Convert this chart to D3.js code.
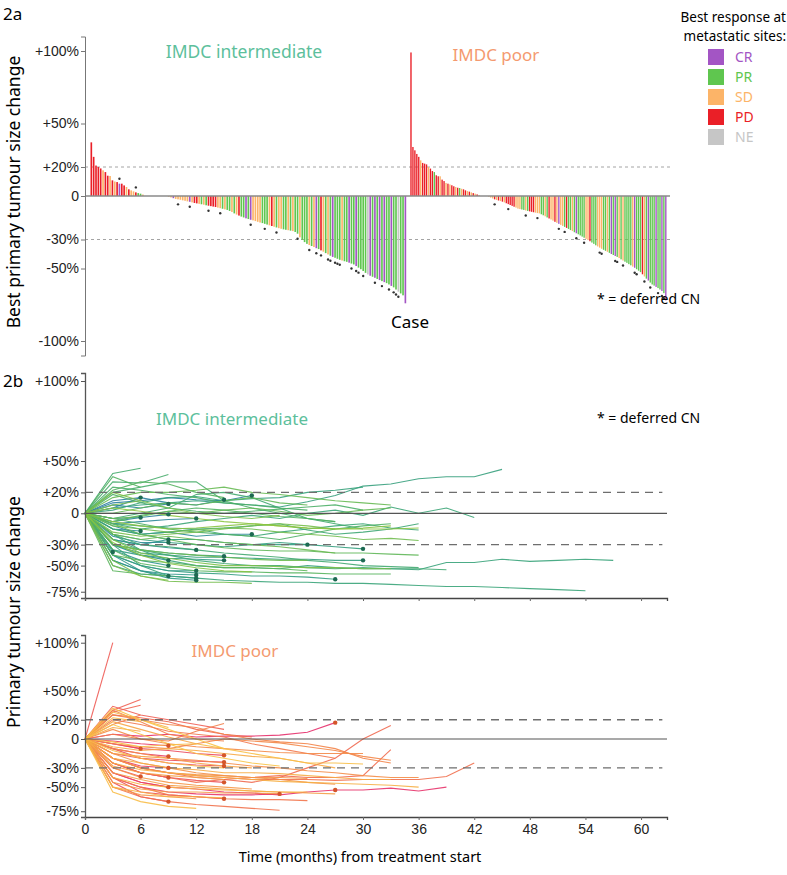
<!DOCTYPE html>
<html>
<head>
<meta charset="utf-8">
<script src="https://cdn.jsdelivr.net/npm/d3@7"></script>
<style>
  body { margin: 0; background: #fff; }
  svg text { font-family: "Noto Sans", "Open Sans", sans-serif; }
  .tick text { font-family: "Liberation Sans", Arial, sans-serif; font-size: 14px; fill: #222; }
</style>
</head>
<body>
<svg id="fig" width="787" height="875"></svg>
<script>
// ---------- data : 2a waterfall (best change in %, ordered as in the figure) ----------
const intWf = [37, 27, 21, 20, 19, 17.7, 16.5, 14, 13.8, 10.8, 10, 9.6, 8.5, 8.5, 7.3, 6.2, 4.6, 3.9, 3.2, 2.5, 2, 1.6, 1,
  0, 0, 0, 0, 0, 0, 0, 0, 0, 0,
  -0.5, -1, -1.5, -2, -2.3, -2.6, -3, -3.3, -3.7, -4, -4.4, -4.8, -5.1, -5.4, -5.7, -6, -6.4, -6.7, -7, -7.3,
  -7.6, -8, -8.4, -8.8, -9.2, -9.6, -10.3, -11, -12, -12.8, -13.5, -14.2, -14.8, -15.4, -15.9, -16.4, -16.8, -17.3,
  -17.8, -18.3, -18.7, -19.2, -19.7, -20.2, -20.7, -21.2, -21.7, -22.2, -22.6, -23, -23.3, -23.6, -23.9, -24.2,
  -24.8, -26, -28.5, -30.2, -31.8, -33, -33.8, -34.5, -35.2, -36, -36.6, -37.5, -38.4, -39.4, -40.3, -41.2, -42,
  -42.6, -43.3, -44, -44.5, -45, -45.4, -46, -46.6, -47.2, -48.3, -49.4, -50.5, -51.7, -53, -54.1, -55, -55.7,
  -56.4, -57.2, -58, -58.7, -59.4, -60.1, -61, -62, -63, -64.5, -66, -67.2, -68.5, -74];
const intResp = ("DDDDDSDDSDSDCDDSDSSDPPS" + "SSSSSSSSSS" +
  "SSCSSSSSSC" + "SDDSPSPDDD" + "DSSPSPPSPS" + "DPPCPCSSSS" + "PPPSDSPSSP" +
  "PSPSPPSPPP" + "SPSCPDSPSP" + "CPPPSPPCPP" + "CPPPPNCPCP" + "CPCPPCPPNP" + "PC").split("");
const intDeferred = [12, 19, 37, 42, 50, 55, 68, 74, 79, 88, 93, 96, 98, 101, 102, 104, 105, 106, 111, 113,
  114, 116, 121, 124, 127, 129, 130, 131];

const poorWf = [99, 33.8, 31.5, 29, 27, 24.6, 22.8, 22.3, 21.8, 20, 18.9, 17.2, 16.5, 14.3, 13.6, 13.6, 11.3, 10.3,
  9, 8.5, 8, 7.4, 6.7, 6.2, 5.7, 5.5, 5, 4.6, 3.9, 3.4, 3, 2.5, 2, 1.6, 1.1, 0.7,
  0, 0, 0, 0,
  -0.5, -1.1, -1.7, -2.3, -2.7, -3.1, -3.5, -3.9, -4.4, -5, -5.6, -6.2, -6.8, -7.4, -8, -8.7, -9, -9.3, -9.6, -10,
  -10.3, -10.6, -10.9, -11.2, -11.5, -11.8, -12, -12.6, -13.3, -14, -14.8, -15.5, -16.2, -17, -17.8, -18.5, -19.2,
  -19.9, -20.6, -21.3, -22, -22.7, -23.5, -24.2, -25, -25.7, -26.4, -27.2, -28, -28.8, -29.6, -30.4, -31.2, -32.1,
  -33, -34, -34.8, -35.6, -36.4, -37.1, -37.8, -38.5, -39.2, -40, -40.7, -41.4, -42, -42.8, -43.7, -44.5, -45.3,
  -46.1, -47, -47.8, -48.7, -49.5, -50.5, -51.5, -52.5, -54, -55.5, -57, -58.3, -59.7, -61, -61.8, -62.7, -63.5,
  -64.5, -65.5, -67, -72];
const poorResp = ("DDDDDSDDDSDDPDDSDDSDSDDSDPSDDSDSDSDS" + "SSSS" +
  "SSSDSDSDSD" + "DDDDSSSPPS" + "PDDDSSSPPS" + "PDSSDSCSSP" + "DPPSPCPPPP" +
  "SSDPPPSSSP" + "PSPCPCPSPS" + "PPPPSCPPPD" + "SPCPPPCPPC" + "PC").split("");
const poorDeferred = [43, 50, 59, 65, 76, 79, 85, 89, 97, 98, 105, 106, 109, 115, 116, 120, 123, 127, 129, 130];

const respLabels = ["CR", "PR", "SD", "PD", "NE"];
const respKey = { C: "CR", P: "PR", S: "SD", D: "PD", N: "NE" };

// ---------- data : 2b trajectories (value every 3 months from start) ----------
const intTraj = [
  [0, 10, 12, 15, 13, 12, 17], [0, 12, 15, 10, 8, 13], [0, 5, 15], [0, 8, 5, 9], [0, -5, -4, -1],
  [0, -10, -8, -6, -5], [0, -15, -17], [0, -12, -20, -18, -22, -20, -20], [0, -8, -4], [0, -25, -30, -25],
  [0, -22, -28, -28], [0, -37], [0, -30, -40, -45], [0, -35, -45, -50], [0, -45, -55, -60],
  [0, -25, -30, -33, -35], [0, -40, -50, -55, -55], [0, -45, -55, -58, -59], [0, -50, -58, -60, -62],
  [0, -40, -55, -62, -64], [0, -30, -35, -38, -40, -41], [0, -35, -40, -43, -44, -45],
  [0, -15, -20, -25, -25, -28, -30, -30, -30], [0, -40, -50, -55, -57, -58, -60, -60, -61, -63],
  [0, -20, -25, -28, -30, -32, -30, -28, -30, -32, -34], [0, -30, -38, -40, -42, -42, -43, -44, -44, -45, -45],
  [0, 5, 8, 10, 12, 10, 8, 6, 11, 17, 26, 28, 33, 35, 35, 42],
  [0, 3, 10, 15, 16, 12, 14, 15, 20, 22, 25],
  [0, -20, -35, -45, -50, -52, -52, -53, -50, -52, -53, -53, -54, -47, -47, -44, -46, -45, -44, -45],
  [0, -30, -50, -60, -62, -64, -65, -66, -66, -67, -67, -68, -69, -70, -70, -71, -72, -73, -74],
  [0, -10, -15, -12, -8, -5, -2, -5, 0, 3, -2, 6, 0, 5, -4],
  [0, -15, -20, -18, -15, -20, -22, -18, -15, -12, -10, -14, -16],
  [0, -10, -12, -14, -15, -14, -12, -10, -16, -20, -18, -15, -10],
  [0, -25, -35, -40, -45, -48, -50, -50, -52, -53, -52, -53, -53, -54],
  [0, -20, -30, -32, -35, -38, -40, -42, -45, -47, -50, -51, -52],
  [0, -5, 0, 5, 18, 20, 15, 5, -5, -10, -15],
  [0, 38, 43], [0, 30, 29, 37], [0, 20, 25, 30, 30, 12, 5, 0, -5, -8],
  [0, 25, 22, 18, 15, 10, 8, 5, 3], [0, 18, 10, 5, 2, 0, 2, 4, 6, 8, 3],
  [0, -5, -10, -15, -18, -20, -22, -25, -20, -15, -12, -10],
  [0, -8, -2, 2, 5, 3, 0, -3, -5, -8], [0, 35, 25], [0, 22, 30, 28, 20, 15],
  [0, -35, -48, -52, -55, -56, -56, -57, -57, -58, -58, -58], [0, -55, -58, -60],
  [0, -40, -45, -47, -50, -52, -52, -53, -55],
  [0, -10, -20, -25, -30, -33, -35, -36, -36, -38, -38, -39, -40],
  [0, 0, 5, 10, 8, 12, 15, 10, 8], [0, -5, -3, 2, 0, 3, 5, 2, -2, 0, 3, 5],
  [0, 15, 20, 20, 22, 25, 20, 18, 15, 12, 10, 8],
  [0, -20, -25, -22, -25, -28, -30, -32, -35, -38], [0, -30, -35, -38, -40, -42, -44, -45, -45],
  [0, -12, -15, -18, -16, -14, -15, -18, -20, -22, -25, -24, -26], [0, -45, -60, -65, -66, -66, -67],
  [0, -18, -22, -20, -18, -15, -12, -10, -12, -15], [0, 8, 12, 5, 0, -3, -5, -2],
  [0, -25, -38, -43, -47, -50, -50, -51, -52, -52, -53, -53], [0, 20, 12], [0, -50, -60, -64],
  [0, -28, -40, -48, -52, -55, -56], [0, -8, -12, -15, -14, -12, -10, -12, -14, -15, -14, -12],
  [0, 5, 2, -2, -5, -8, -10, -12, -14, -15, -15, -15, -14]
];
const intCNStep = [6, 5, 2, 3, 3, 4, 2, 6, 2, 3, 3, 1, 3, 3, 3, 4, 4, 4, 4, 4, 5, 5, 8, 9, 10, 10];

const poorTraj = [
  [0, 5, 3, 5, 2, 3, 3, 4, 7, 17], [0, -35, -45, -50, -52, -55, -56, -58, -55, -53, -53, -51, -54, -50],
  [0, -40, -50, -55, -57, -58, -58, -57], [0, -5, -10], [0, -2, -5, -7], [0, -10, -15, -18], [0, -20, -28, -30],
  [0, -25, -35, -40], [0, -35, -45, -50], [0, -45, -60, -65], [0, -5, -10, -12, -15, -17],
  [0, -15, -20, -22, -23, -24], [0, -10, -20, -25, -27, -28], [0, -25, -35, -40, -43, -45],
  [0, -40, -55, -58, -60, -62], [0, -30, -39],
  [0, 100], [0, 34, 25, 20, 15, 10], [0, 30, 41], [0, 28, 35], [0, 25, 22, 18, 10, 5, 2],
  [0, -20, -30, -35, -40, -42, -45, -40, -30, -20, 0, 14],
  [0, -25, -35, -40, -45, -42, -40, -38, -40, -40, -38, -11],
  [0, -20, -30, -35, -38, -40, -42, -42, -42, -43, -42, -42, -42, -39, -25],
  [0, -50, -60, -65, -68, -70, -72, -74], [0, -40, -50, -58, -60, -62, -63, -63, -64],
  [0, 20, 15, 8, 5, 2, -5, -10, -15, -20], [0, 15, 25], [0, 5, 0, -2, 8, 16], [0, 30, 18, 5, 0, -2],
  [0, 25, 20, 15, 12, 5, 0, -3, -5, -10, -20, -25], [0, -5, -8, -10, -5, 0, -2, -4, -8, -12, -18, -22],
  [0, 10, 0, -5, -8, -10, -12, -14, -15, -15, -15],
  [0, -10, -15, -20, -22, -25, -28, -30, -33, -35, -38, -40, -40],
  [0, -15, -25, -30, -35, -38, -40, -42, -45, -47], [0, -20, -30, -35, -37, -38, -40, -40, -41],
  [0, -30, -40, -45, -48, -50, -52], [0, -50, -58, -60, -62], [0, -45, -52, -55, -55, -56, -56, -57],
  [0, -35, -42, -48, -50, -52, -54, -55, -56, -57], [0, -28, -35, -38, -40, -42], [0, -15, -18, -20, -25, -28, -30],
  [0, 18, 10, 2, -5], [0, 12, 8], [0, -8, -12, -10, -12, -15, -18, -20, -25, -30],
  [0, -20, -25, -30, -32, -35, -35, -36, -38, -40, -42, -42],
  [0, -25, -32, -35, -38, -40, -42, -44, -45, -46, -47, -48, -50], [0, -50, -55, -60, -60, -61],
  [0, -40, -47, -50, -52, -53, -54, -55, -55], [0, 28, 20, 12], [0, 22, 18], [0, -12, -20, -25, -28, -30],
  [0, -55, -65, -70, -72], [0, -3, -8, -6, -5, -10, -15, -20, -25, -25, -26], [0, 32, 20, 10, 0, -10],
  [0, 15, 5, -5, -15, -20, -25, -28]
];
const poorCNStep = [9, 9, 7, 2, 3, 3, 3, 3, 3, 3, 5, 5, 5, 5, 5, 2];

const yTicksA = [100, 50, 20, 0, -30, -50, -100];
const yTicksB = [100, 50, 20, 0, -30, -50, -75];
const monthTicks = [0, 6, 12, 18, 24, 30, 36, 42, 48, 54, 60];
const stepMonths = 3;

// ---------- setup ----------
const svg = d3.select("#fig");
const respColor = d3.scaleOrdinal().domain(respLabels)
  .range(["#a355c4", "#5fc64f", "#fcb468", "#ea1f27", "#c6c6c6"]);
const pctFmt = d => d === 0 ? "0" : (d > 0 ? "+" + d + "%" : d + "%");

// ---------- 2a ----------
const yA = d3.scaleLinear().domain([-110, 110]).range([355.5, 36.5]);
const xbI = d3.scaleBand().domain(intWf.map((v, i) => "i" + i)).range([90.5, 406.2]).paddingInner(0.3);
const xbP = d3.scaleBand().domain(poorWf.map((v, i) => "p" + i)).range([410.3, 666.5]).paddingInner(0.3);
const xA0 = 85, xA1 = 670;

svg.append("text").attr("x", 3).attr("y", 20).style("font-size", "17px").text("2a");

const gA = svg.append("g");
[20, -30].forEach(v => {
  gA.append("line").attr("x1", xA0).attr("x2", xA1).attr("y1", yA(v)).attr("y2", yA(v))
    .attr("stroke", "#9a9a9a").attr("stroke-width", 0.9).attr("stroke-dasharray", "3,3");
});

const wfRows = intWf.map((v, i) => ({ k: "i" + i, v, r: respKey[intResp[i]], def: intDeferred.includes(i), xs: xbI }))
  .concat(poorWf.map((v, i) => ({ k: "p" + i, v, r: respKey[poorResp[i]], def: poorDeferred.includes(i), xs: xbP })));

gA.selectAll("rect.bar").data(wfRows.filter(d => d.v !== 0)).join("rect")
  .attr("class", "bar")
  .attr("x", d => d.xs(d.k))
  .attr("width", d => d.xs.bandwidth())
  .attr("y", d => Math.min(yA(d.v), yA(0)))
  .attr("height", d => Math.abs(yA(d.v) - yA(0)))
  .attr("fill", d => respColor(d.r));

gA.append("line").attr("x1", xA0).attr("x2", xA1).attr("y1", yA(0)).attr("y2", yA(0))
  .attr("stroke", "#8a8a8a").attr("stroke-width", 1.4);

gA.selectAll("circle.def").data(wfRows.filter(d => d.def)).join("circle")
  .attr("class", "def")
  .attr("cx", d => d.xs(d.k) + d.xs.bandwidth() / 2)
  .attr("cy", d => yA(d.v) + (d.v > 0 ? -5 : 5))
  .attr("r", 1.2).attr("fill", "#333");

const axA = gA.append("g").attr("transform", `translate(${xA0},0)`)
  .call(d3.axisLeft(yA).tickValues(yTicksA).tickFormat(pctFmt).tickSize(4).tickPadding(2));
axA.select(".domain").attr("stroke", "#777");
axA.selectAll(".tick line").attr("stroke", "#777");

svg.append("text").attr("transform", "translate(20,192) rotate(-90)").attr("text-anchor", "middle")
  .style("font-size", "17.5px").text("Best primary tumour size change");

svg.append("text").attr("x", 244).attr("y", 58).attr("text-anchor", "middle")
  .style("font-size", "17.5px").attr("fill", "#5dbf9c").text("IMDC intermediate");
svg.append("text").attr("x", 496).attr("y", 61).attr("text-anchor", "middle")
  .style("font-size", "17px").attr("fill", "#f49a70").text("IMDC poor");
svg.append("text").attr("x", 410).attr("y", 328).attr("text-anchor", "middle")
  .style("font-size", "17px").text("Case");
svg.append("text").attr("x", 597).attr("y", 304)
  .style("font-size", "14px").text("* = deferred CN");

// legend
svg.append("text").attr("x", 786).attr("y", 22).attr("text-anchor", "end")
  .style("font-size", "13.5px").text("Best response at");
svg.append("text").attr("x", 786).attr("y", 41).attr("text-anchor", "end")
  .style("font-size", "13.5px").text("metastatic sites:");
const leg = svg.append("g").selectAll("g").data(respLabels).join("g")
  .attr("transform", (d, i) => `translate(708,${49 + i * 20})`);
leg.append("rect").attr("width", 16).attr("height", 16).attr("fill", d => respColor(d));
leg.append("text").attr("x", 27).attr("y", 13).style("font-size", "14px")
  .attr("fill", d => respColor(d)).text(d => d);

// ---------- 2b ----------
const xB = d3.scaleLinear().domain([0, 62.8]).range([85, 667]);
// labels above +50% are spread out on the intermediate panel, so a polylinear scale
const yInt = d3.scaleLinear().domain([-81, 50, 105]).range([598, 461, 373]);
const yPoor = d3.scaleLinear().domain([-81, 108]).range([817, 635]);

svg.append("text").attr("x", 3).attr("y", 387).style("font-size", "17px").text("2b");
svg.append("text").attr("transform", "translate(20,612) rotate(-90)").attr("text-anchor", "middle")
  .style("font-size", "17.5px").text("Primary tumour size change");

function drawPanel(traj, cnStep, y, colors, dotColor, showLabels) {
  const g = svg.append("g");
  const color = d3.scaleSequential(d3.interpolateRgbBasis(colors)).domain([0, traj.length - 1]);
  const line = d3.line().x((d, i) => xB(i * stepMonths)).y(d => y(d));

  traj.forEach((t, i) => {
    g.append("path").attr("d", line(t)).attr("fill", "none")
      .attr("stroke", color(i)).attr("stroke-width", 1.1).attr("stroke-opacity", 0.9);
  });

  [20, -30].forEach(v => {
    g.append("line").attr("x1", xB(0)).attr("x2", xB(62.3)).attr("y1", y(v)).attr("y2", y(v))
      .attr("stroke", "#6e6e6e").attr("stroke-width", 1.3).attr("stroke-dasharray", "8,6");
  });
  g.append("line").attr("x1", xB(0)).attr("x2", xB(62.8)).attr("y1", y(0)).attr("y2", y(0))
    .attr("stroke", "#555").attr("stroke-width", 1.2);

  cnStep.forEach((s, i) => {
    g.append("circle").attr("cx", xB(s * stepMonths)).attr("cy", y(traj[i][s]))
      .attr("r", 2.2).attr("fill", dotColor);
  });

  const dom = y.domain();
  const ay = g.append("g").attr("transform", `translate(${xB(0)},0)`)
    .call(d3.axisLeft(y).tickValues(yTicksB).tickFormat(pctFmt).tickSize(4).tickPadding(2));
  ay.select(".domain").attr("stroke", "#555").attr("stroke-width", 1.3);
  ay.selectAll(".tick line").attr("stroke", "#555");

  const ax = g.append("g").attr("transform", `translate(0,${y(dom[0])})`)
    .call(d3.axisBottom(xB).tickValues(monthTicks).tickSize(3).tickPadding(4)
      .tickFormat(showLabels ? d => d : () => ""));
  ax.select(".domain").attr("stroke", "#444").attr("stroke-width", 1.3);
  ax.selectAll(".tick line").attr("stroke", "#666");
}

drawPanel(intTraj, intCNStep, yInt, ["#2a7f9e", "#2e9c87", "#4bb163", "#8cc541"], "#1d6a52", false);
drawPanel(poorTraj, poorCNStep, yPoor, ["#e6306c", "#f0604f", "#f59a45", "#f8c447"], "#d4552a", true);

svg.append("text").attr("x", 232).attr("y", 425).attr("text-anchor", "middle")
  .style("font-size", "17px").attr("fill", "#5dbf9c").text("IMDC intermediate");
svg.append("text").attr("x", 235).attr("y", 657).attr("text-anchor", "middle")
  .style("font-size", "17px").attr("fill", "#f49a70").text("IMDC poor");
svg.append("text").attr("x", 597).attr("y", 423)
  .style("font-size", "14px").text("* = deferred CN");
svg.append("text").attr("x", 360).attr("y", 862).attr("text-anchor", "middle")
  .style("font-size", "14.5px").text("Time (months) from treatment start");
</script>
</body>
</html>
